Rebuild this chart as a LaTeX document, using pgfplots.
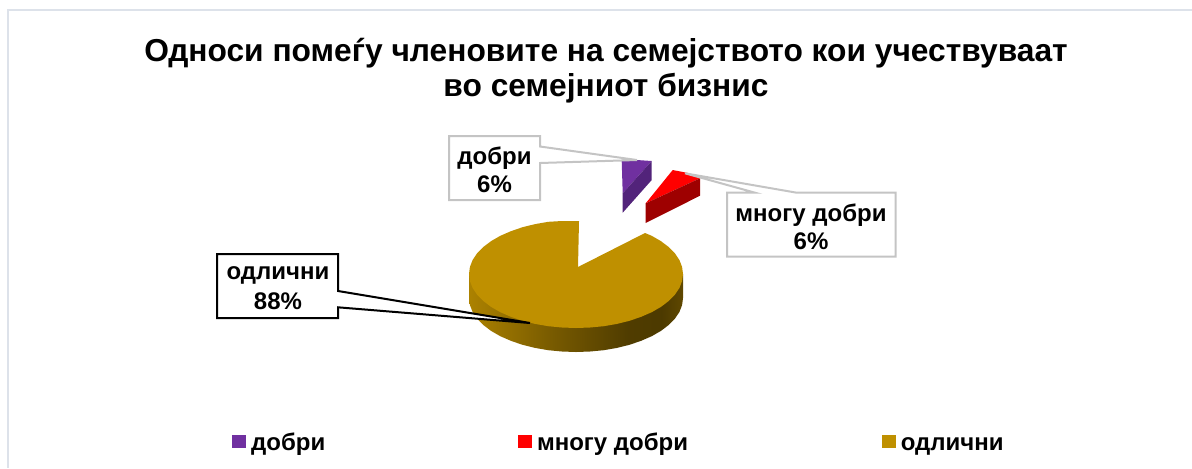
\documentclass[border=0pt]{standalone}
\usepackage{pgfplots}
\pgfplotsset{compat=1.18}
\usepackage{fontspec}
\setmainfont{Liberation Sans}
\definecolor{frameblue}{HTML}{DDE2EA}
\definecolor{goldtop}{HTML}{BF9000}
\definecolor{purpletop}{HTML}{7030A0}
\definecolor{purpleside}{HTML}{52237A}
\definecolor{redtop}{HTML}{FF0000}
\definecolor{redside}{HTML}{9E0000}
\definecolor{calloutgrey}{HTML}{C4C4C4}
\pgfdeclarehorizontalshading{goldside}{100bp}{
  color(0bp)=(goldtop!90!black);
  color(25bp)=(goldtop!90!black);
  color(45bp)=(goldtop!62!black);
  color(62bp)=(goldtop!42!black);
  color(70bp)=(goldtop!40!black);
  color(75bp)=(goldtop!50!black);
  color(100bp)=(goldtop!50!black)}
\newcommand{\lab}{\fontsize{12pt}{13pt}\selectfont\bfseries}
\begin{document}
\begin{tikzpicture}
\begin{axis}[
  scale only axis, width=596pt, height=234pt,
  xmin=0, xmax=1192, ymin=0, ymax=468, y dir=reverse,
  hide axis, clip=true,
  legend columns=3,
  legend cell align=left,
  legend style={
    at={(axis cs:232,443)}, anchor=west, draw=none, fill=none,
    inner xsep=0pt, inner ysep=0pt,
    font=\lab,
    nodes={inner xsep=1pt, inner ysep=0pt},
    /tikz/every odd column/.style={column sep=1.5pt},
    /tikz/every even column/.style={column sep=0pt},
  },
  legend image code/.code={
    \fill[#1] (0pt,-2.2pt) rectangle (6.5pt,3.8pt);
  },
]
% outer frame of the chart area
\addplot[forget plot, draw=frameblue, line width=1pt] coordinates
  {(1192,10) (8,10) (8,468)};

% lower rim of the large slice
\addplot[forget plot, draw=none, shading=goldside] coordinates {
  (469,274) (469,298) (469.9,305) (472.6,312) (477.1,318.7) (483.3,325)
  (491.1,330.9) (500.3,336.2) (510.9,340.8) (522.5,344.8) (535.1,347.9)
  (548.3,350.2) (562,351.5) (576,352) (590,351.5) (603.7,350.2) (617,347.9)
  (629.5,344.8) (641.1,340.8) (651.7,336.2) (660.9,330.9) (668.7,325)
  (674.9,318.7) (679.4,312) (682.1,305) (683,298) (683,274)} -- cycle;

% top face: одлични 88%
\addplot[fill=goldtop, draw=none, forget plot] coordinates {
  (578,267) (579,221) (562,221) (548.3,221.8) (535.1,224.1) (522.5,227.2)
  (510.9,231.2) (500.3,235.8) (491.1,241.1) (483.3,247) (477.1,253.3)
  (472.6,260) (469.9,267) (469,274) (469.9,281) (472.6,288) (477.1,294.7)
  (483.3,301) (491.1,306.9) (500.3,312.2) (510.9,316.8) (522.5,320.8)
  (535.1,323.9) (548.3,326.2) (562,327.5) (576,328) (590,327.5) (603.7,326.2)
  (617,323.9) (629.5,320.8) (641.1,316.8) (651.7,312.2) (660.9,306.9)
  (668.7,301) (674.9,294.7) (679.4,288) (682.1,281) (683,274) (682.1,267)
  (679.4,260) (674.9,253.3) (668.7,247) (660.9,241.1) (651.7,235.8) (645,233)} -- cycle;

% добри 6%
\addplot[fill=purpletop, draw=none, forget plot] coordinates {
  (621.7,161) (636.7,160) (651.7,161) (622.7,193.3)} -- cycle;
\addplot[fill=purpleside, draw=none, forget plot] coordinates {
  (651.7,161) (651.7,180) (622.7,212.7) (622.7,193.3)} -- cycle;

% многу добри 6%
\addplot[fill=redtop, draw=none, forget plot] coordinates {
  (672.7,170) (688,173) (700,178.3) (645.7,203.3)} -- cycle;
\addplot[fill=redside, draw=none, forget plot] coordinates {
  (645.7,203.3) (700,178.3) (700,195.7) (645.7,223)} -- cycle;

% data callouts
\addplot[forget plot, fill=white, draw=calloutgrey, line width=1pt] coordinates {
  (449,136) (540,136) (540,146.5) (637,160) (540,163) (540,200) (449,200)} -- cycle;
\addplot[forget plot, fill=white, draw=calloutgrey, line width=1pt] coordinates {
  (727,192.7) (755,192.7) (685,173.3) (796.7,192.7) (895.7,192.7) (895.7,256.7) (727,256.7)} -- cycle;
\addplot[forget plot, fill=white, draw=black, line width=1pt] coordinates {
  (217,254) (338,254) (338,291) (530,323) (338,307.3) (338,318) (217,318)} -- cycle;

% legend swatches and names
\addlegendimage{purpletop}
\addlegendentry{\strut\makebox[132.5pt][l]{добри}}
\addlegendimage{redtop}
\addlegendentry{\strut\makebox[171.5pt][l]{многу добри}}
\addlegendimage{goldtop}
\addlegendentry{\strut одлични}

% title and callout texts
\node[align=center, font=\fontsize{15.87pt}{17.5pt}\selectfont\bfseries]
  at (axis cs:606,71) {Односи помеѓу членовите на семејството кои учествуваат\\во семејниот бизнис};
\node[align=center, font=\lab] at (axis cs:494.5,170)
  {добри\\[1pt]6\%};
\node[align=center, font=\lab] at (axis cs:811,227)
  {многу добри\\[1pt]6\%};
\node[align=center, font=\lab] at (axis cs:278,288)
  {одлични\\[2pt]88\%};
\end{axis}
\path (0,0) rectangle (596pt,234pt);
\end{tikzpicture}
\end{document}
